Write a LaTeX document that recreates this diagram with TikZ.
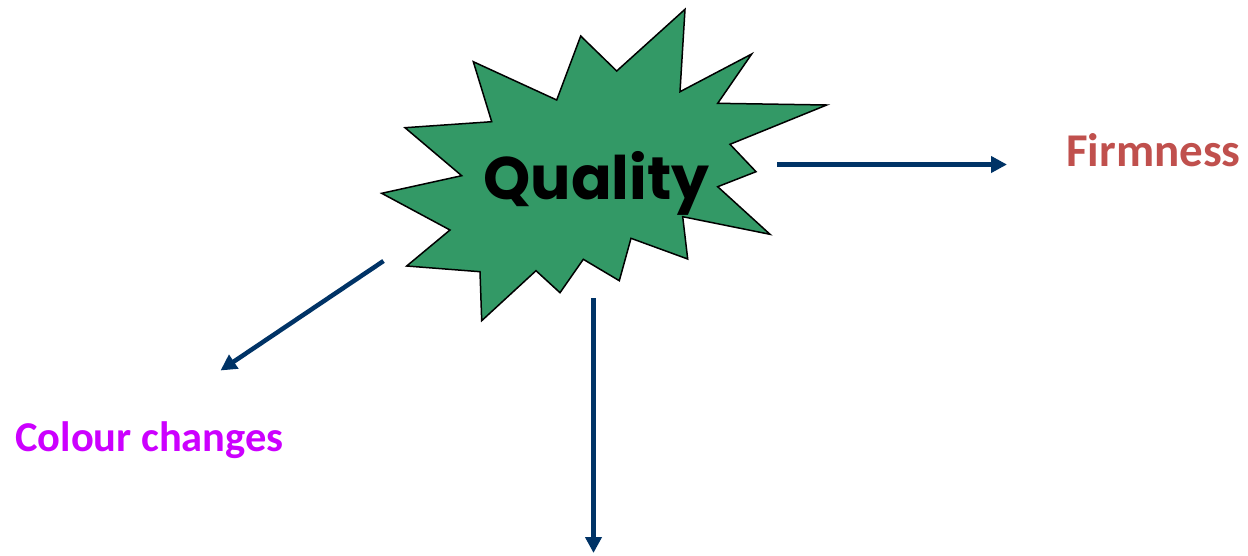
\documentclass[tikz,border=0pt]{standalone}
\usepackage{fontspec}
\setmainfont{Carlito}
\newfontfamily\qfont{Poppins}
\usetikzlibrary{arrows.meta}
\definecolor{burst}{HTML}{339966}
\definecolor{arrowblue}{HTML}{003366}
\definecolor{firm}{HTML}{C0504D}
\definecolor{colch}{HTML}{CC00FF}
\tikzset{
  conn/.style={draw=arrowblue, line width=4.5pt, -{Triangle[length=16pt,width=16pt]}},
  lbl/.style={inner sep=0pt, anchor=base west}
}
\begin{document}
\begin{tikzpicture}[x=1pt,y=-1pt]
\useasboundingbox (0,0) rectangle (1248,555);
\draw[fill=burst, draw=black, line width=1.5pt, line join=miter]
  (473.3,61.7) -- (556.7,100) -- (580.7,36) -- (616.7,71) -- (685,9.3) -- (680,91.7)
  -- (751.7,54) -- (717.7,103.3) -- (826.7,105) -- (730,144.3) -- (756,171.7)
  -- (717.7,186.7) -- (770,234.3) -- (682.7,216.7) -- (687.7,259) -- (631,238.3)
  -- (619.3,280.7) -- (583.3,259.3) -- (560,292.7) -- (536,270.7) -- (481.7,320.7)
  -- (480,271.7) -- (406.7,266) -- (450,230) -- (381.7,193.3) -- (461.7,175.7)
  -- (405,127.7) -- (491.7,121.7) -- cycle;
\node[inner sep=0pt, anchor=base] (q) at (596.5,199) {\qfont\bfseries\fontsize{60}{68}\selectfont Quality};
\node[lbl, text=firm, font=\bfseries\fontsize{47}{54}\selectfont] (firm) at (1066,166) {Firmness};
\node[lbl, text=colch, font=\bfseries\fontsize{42.5}{50}\selectfont] (col) at (15,451) {Colour changes};
\coordinate (r1) at (777,164.5);
\coordinate (r2) at (1007,164.5);
\coordinate (d1) at (383.5,261);
\coordinate (d2) at (220.5,370.5);
\coordinate (v1) at (593.5,298);
\coordinate (v2) at (593.5,553);
\draw[conn] (r1) -- (r2);
\draw[conn] (d1) -- (d2);
\draw[conn] (v1) -- (v2);
\end{tikzpicture}
\end{document}
